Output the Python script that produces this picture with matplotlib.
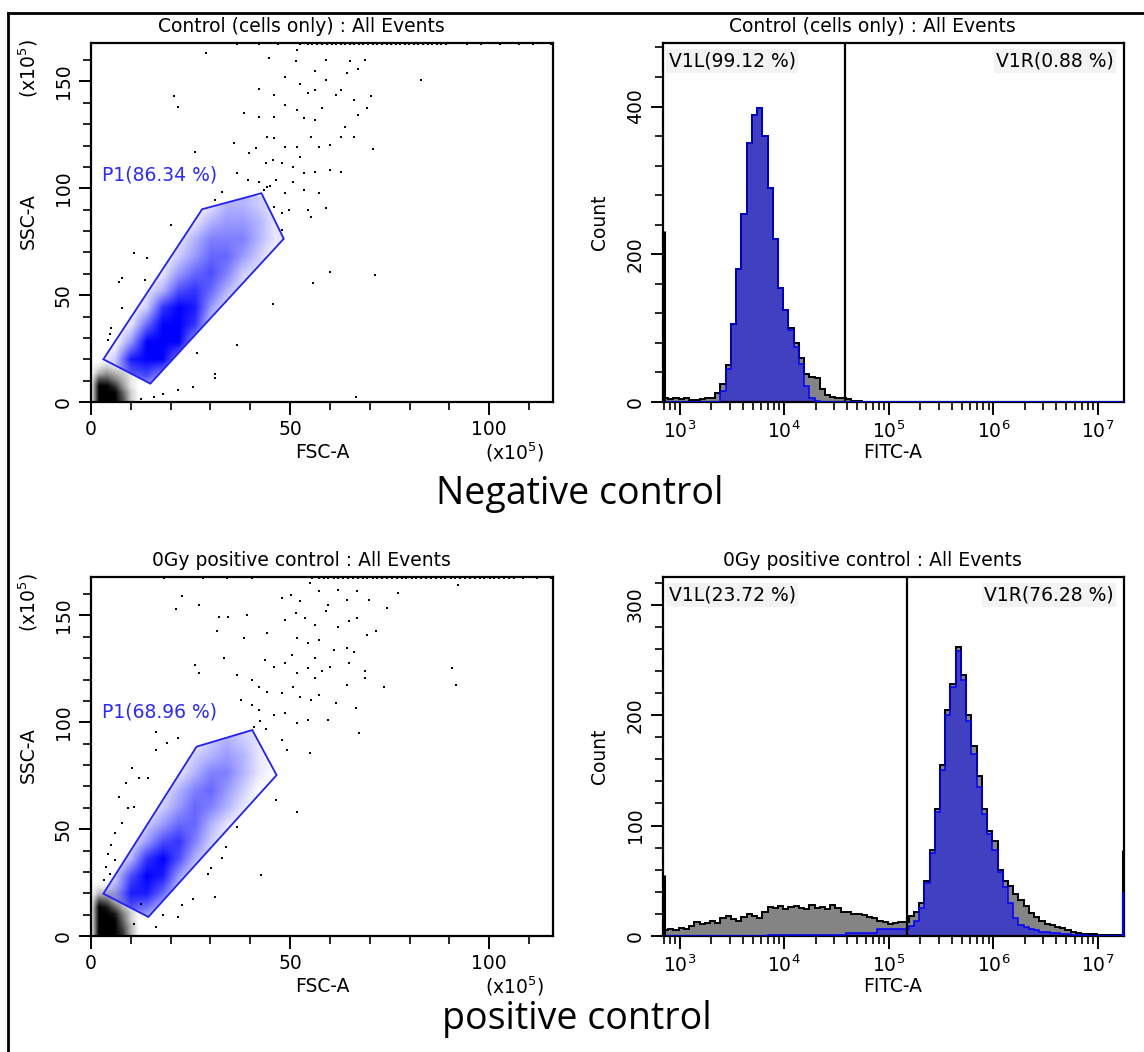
import numpy as np
import matplotlib
matplotlib.use("Agg")
import matplotlib.pyplot as plt
from matplotlib.colors import LinearSegmentedColormap
from matplotlib.patches import Polygon
from matplotlib.lines import Line2D
from matplotlib.ticker import MultipleLocator, LogLocator, NullFormatter

plt.rcParams['font.family'] = ['DejaVu Sans']
plt.rcParams['mathtext.fontset'] = 'dejavusans'

W, H = 1144, 1052

# ---------------- data: scatter panels (FSC-A / SSC-A, x10^5) ----------------
left_titles = ["Control (cells only) : All Events", "0Gy positive control : All Events"]
right_titles = left_titles
row_labels = ["Negative control", "positive control"]
p1_labels = ["P1(86.34 %)", "P1(68.96 %)"]
p1_pos = [(2.8, 106), (2.8, 104.7)]

gate_neg = [(3.1, 20.0), (27.9, 90.2), (42.8, 97.7), (48.4, 76.4), (14.9, 8.6)]
gate_pos = [(3.1, 19.8), (26.5, 88.6), (40.5, 96.4), (46.6, 75.3), (14.4, 8.9)]

# blue density inside gate P1 (relative 0-10), rows = ssc_nodes, cols = fsc_nodes
fsc_nodes = [2, 6, 10, 14, 18, 22, 26, 30, 34, 38, 42, 46]
ssc_nodes = [4, 12, 20, 28, 36, 44, 52, 60, 68, 76, 84, 92]
dens_neg = [
    [0, 0, 0, 0, 0, 0, 0, 0, 0, 0, 0, 0],
    [0, 1, 6, 7, 4, 1, 0, 0, 0, 0, 0, 0],
    [0, 2, 9, 10, 10, 5, 1, 0, 0, 0, 0, 0],
    [0, 0, 4, 10, 10, 10, 4, 1, 0, 0, 0, 0],
    [0, 0, 1, 6, 10, 10, 8, 2, 1, 0, 0, 0],
    [0, 0, 0, 2, 8, 10, 9, 4, 1, 0, 0, 0],
    [0, 0, 0, 1, 3, 7, 8, 6, 3, 1, 0, 0],
    [0, 0, 0, 0, 1, 4, 6, 7, 5, 2, 1, 0],
    [0, 0, 0, 0, 0, 2, 4, 6, 6, 4, 2, 0],
    [0, 0, 0, 0, 0, 1, 3, 5, 5, 5, 3, 1],
    [0, 0, 0, 0, 0, 0, 1, 3, 4, 4, 3, 1],
    [0, 0, 0, 0, 0, 0, 0, 1, 3, 3, 2, 1],
]
dens_pos = [
    [0, 0, 0, 0, 0, 0, 0, 0, 0, 0, 0, 0],
    [0, 2, 6, 5, 2, 0, 0, 0, 0, 0, 0, 0],
    [0, 3, 9, 9, 6, 2, 0, 0, 0, 0, 0, 0],
    [0, 2, 7, 10, 9, 4, 1, 0, 0, 0, 0, 0],
    [0, 0, 3, 8, 10, 7, 3, 1, 0, 0, 0, 0],
    [0, 0, 1, 4, 7, 8, 5, 2, 0, 0, 0, 0],
    [0, 0, 0, 2, 4, 6, 6, 3, 1, 0, 0, 0],
    [0, 0, 0, 0, 2, 4, 6, 5, 3, 1, 0, 0],
    [0, 0, 0, 0, 1, 3, 5, 6, 4, 2, 0, 0],
    [0, 0, 0, 0, 0, 1, 3, 5, 5, 3, 1, 0],
    [0, 0, 0, 0, 0, 0, 2, 3, 4, 3, 1, 0],
    [0, 0, 0, 0, 0, 0, 0, 2, 3, 2, 1, 0],
]

# black debris cluster near origin (relative 0-10), rows every 3 SSC units from 1.5
deb_fsc = [0, 2, 4, 6, 8, 10, 12]
deb_ssc_neg = [1.5, 4.5, 7.5, 10.5, 13.5, 16.5, 19.5]
deb_neg = [
    [0, 10, 10, 10, 7, 2, 0],
    [0, 10, 10, 10, 6, 2, 0],
    [0, 10, 10, 8, 4, 1, 0],
    [0, 7, 7, 5, 3, 1, 0],
    [0, 3, 4, 3, 2, 1, 0],
    [0, 1, 2, 1, 1, 0, 0],
    [0, 0, 0, 0, 0, 0, 0],
]
deb_ssc_pos = [1.5, 4.5, 7.5, 10.5, 13.5, 16.5, 19.5, 22.5, 25.5]
deb_pos = [
    [0, 10, 10, 10, 8, 3, 0],
    [0, 10, 10, 10, 7, 3, 0],
    [0, 10, 10, 10, 6, 2, 0],
    [0, 10, 10, 9, 5, 2, 0],
    [0, 10, 9, 6, 3, 1, 0],
    [0, 7, 6, 3, 2, 1, 0],
    [0, 3, 3, 2, 1, 0, 0],
    [0, 1, 1, 1, 0, 0, 0],
    [0, 0, 0, 0, 0, 0, 0],
]

# single events outside the gate (FSC, SSC)
neg_fsc = [28.8, 44.8, 51.6, 51.4, 59.1, 65.1, 67.0, 68.8, 64.2, 56.3, 48.8, 42.3, 46.0, 52.4, 54.4,
           56.3, 59.1, 61.4, 62.8, 66.0, 70.2, 69.3, 20.9, 21.9, 82.8, 38.4, 42.3, 46.0, 48.8, 51.6,
           53.5, 56.3, 58.1, 63.7, 67.0, 44.2, 46.0, 48.8, 51.6, 52.6, 55.3, 57.2, 60.0, 62.8, 66.0,
           70.7, 35.8, 39.6, 41.4, 45.6, 47.9, 50.7, 53.5, 56.3, 60.0, 62.8, 26.0, 36.7, 39.5, 42.3,
           44.2, 46.5, 48.8, 50.7, 53.5, 57.2, 33.0, 31.2, 46.0, 47.9, 49.8, 54.4, 59.1, 55.3, 47.9,
           20.0, 10.7, 14.0, 7.9, 7.0, 13.5, 7.9, 5.1, 4.7, 4.2, 45.6, 60.0, 71.3, 55.8, 36.7,
           26.5, 31.2, 31.2, 25.6, 66.5, 21.9, 18.1, 12.6, 15.8, 116.0, 116.0, 43.5, 45.0, 44.0]
neg_ssc = [163.3, 160.9, 164.5, 159.7, 160.2, 159.7, 156.0, 160.0, 154.0, 154.7, 152.3, 146.4, 143.8, 149.0, 144.5,
           146.0, 150.8, 143.8, 146.0, 141.4, 143.0, 137.5, 143.0, 138.0, 150.8, 135.2, 133.6, 133.3, 139.0, 136.7,
           132.8, 132.0, 137.5, 128.9, 134.4, 124.2, 123.4, 119.5, 119.5, 114.8, 124.2, 119.5, 120.3, 124.2, 124.2,
           118.4, 121.0, 116.4, 118.8, 113.3, 111.7, 110.2, 107.0, 107.8, 108.6, 107.8, 117.2, 107.0, 104.0, 103.0,
           100.8, 104.0, 97.7, 103.0, 99.2, 97.7, 98.4, 94.5, 91.4, 88.3, 89.8, 89.8, 90.6, 86.7, 80.5,
           82.8, 69.5, 67.2, 57.8, 56.3, 57.0, 43.8, 34.4, 32.0, 28.9, 45.8, 60.9, 59.4, 55.5, 26.6,
           22.7, 13.3, 11.0, 7.0, 2.3, 5.5, 3.9, 1.6, 2.3, 152.0, 70.0, 99.0, 101.0, 112.0]
pos_fsc = [22.8, 21.4, 27.0, 32.1, 34.4, 39.1, 31.6, 38.3, 44.2, 47.9, 50.2, 52.6, 54.9, 57.2, 59.5,
           61.9, 64.2, 66.9, 69.8, 74.4, 77.2, 92.1, 48.8, 51.4, 53.7, 56.3, 59.1, 61.9, 64.7, 66.9,
           71.6, 69.3, 51.6, 54.4, 57.2, 60.9, 64.2, 66.0, 50.5, 56.3, 64.7, 33.5, 26.0, 27.0, 43.7,
           46.0, 48.8, 51.6, 54.4, 56.3, 58.1, 60.0, 90.7, 91.6, 68.8, 68.8, 73.5, 64.2, 36.7, 40.5,
           42.3, 44.2, 47.9, 50.7, 52.6, 55.3, 57.2, 61.4, 59.5, 66.5, 67.4, 37.7, 40.5, 42.3, 46.0,
           48.8, 51.6, 54.4, 47.9, 49.3, 54.9, 46.5, 51.6, 36.7, 34.0, 33.0, 30.2, 29.3, 42.8, 31.2,
           25.6, 22.8, 21.9, 18.1, 16.3, 21.9, 19.1, 16.3, 12.1, 14.4, 8.8, 10.2, 10.7, 9.3, 7.0,
           7.9, 6.0, 5.1, 4.2, 3.7, 3.3, 4.7, 6.0, 12.6, 16.3, 10.7, 116.0, 41.0, 42.5, 44.0]
pos_ssc = [158.9, 153.1, 154.7, 149.5, 149.5, 150.0, 142.5, 139.4, 141.7, 158.1, 159.7, 156.6, 165.2, 161.3, 155.0,
           162.0, 157.3, 161.3, 157.3, 153.4, 160.5, 164.4, 148.0, 151.1, 148.8, 145.6, 151.9, 144.8, 147.2, 148.8,
           142.5, 140.9, 139.4, 137.0, 138.6, 133.9, 134.7, 133.1, 131.6, 130.0, 127.7, 130.0, 126.9, 123.3, 129.2,
           126.1, 127.7, 123.0, 125.3, 120.6, 123.8, 126.1, 125.3, 117.5, 123.8, 120.6, 116.7, 117.5, 122.2, 119.8,
           116.7, 114.4, 113.6, 116.7, 112.0, 110.5, 112.8, 108.9, 101.1, 106.6, 94.8, 110.5, 108.1, 105.8, 103.4,
           104.2, 99.5, 101.1, 91.7, 87.0, 85.5, 63.6, 58.1, 51.1, 41.7, 36.3, 31.6, 29.2, 28.4, 18.3,
           17.5, 14.4, 8.9, 9.7, 95.6, 92.5, 90.2, 87.0, 73.8, 73.8, 71.4, 78.4, 60.5, 59.7, 65.2,
           52.7, 48.0, 42.5, 38.6, 32.3, 26.1, 29.2, 35.5, 15.2, 4.2, 5.8, 164.0, 98.0, 100.5, 97.0]

# events piled up at the SSC ceiling
neg_top = [36.7, 42.3, 47.0, 52.6, 54.4, 55.5, 56.8, 58.1, 59.3, 60.4, 61.5, 62.7, 63.8, 65.0, 66.1, 67.3,
           68.4, 69.6, 70.7, 71.9, 73.0, 74.2, 75.3, 76.5, 77.6, 78.8, 79.9, 81.1, 82.2, 83.4, 84.5,
           85.7, 86.8, 88.0, 89.2, 94.4, 98.0, 102.8, 107.4, 111.0, 115.4]
pos_top = [18.4, 28.1, 34.2, 40.3, 55.6, 57.2, 58.4, 59.6, 60.9, 62.1, 63.3, 64.5, 65.8, 67.0, 68.2,
           69.4, 70.7, 71.9, 73.1, 74.3, 75.6, 76.8, 78.0, 79.2, 80.5, 81.7, 82.9, 84.1, 85.4, 86.6,
           87.8, 89.0, 90.3, 91.5, 92.7, 93.9, 95.2, 96.4, 97.6, 98.8, 100.1, 101.3, 102.5, 103.7,
           104.9, 106.2, 108.5, 112.0, 115.5]

# ---------------- data: FITC-A histograms ----------------
hist_log_start = 2.84   # first channel, log10(FITC-A)
hist_log_step = 0.05
neg_all = [5, 4, 6, 4, 5, 3, 3, 4, 6, 5, 12, 25, 50, 105, 180, 255, 350, 388, 398, 360,
           290, 220, 155, 125, 100, 80, 60, 38, 34, 32, 18, 9, 7, 6, 5, 4, 2, 1] + [0] * 50
neg_gate = [0] * 11 + [15, 45, 105, 180, 255, 350, 388, 398, 360, 290, 220, 155, 125, 98, 74,
                       52, 22, 5, 2] + [0] * 58
pos_all = [5, 6, 5, 7, 6, 9, 13, 11, 12, 14, 12, 16, 18, 15, 14, 17, 20, 18, 16, 22,
           26, 25, 27, 24, 26, 27, 25, 24, 28, 25, 26, 24, 28, 25, 22, 22, 20, 20, 19, 17,
           16, 14, 13, 11, 12, 13, 13, 18, 22, 30, 50, 78, 115, 155, 205, 228, 262, 236, 200, 172,
           145, 115, 95, 86, 60, 50, 45, 38, 33, 27, 21, 17, 14, 11, 10, 8, 7, 5, 4, 3,
           2, 2, 2, 1, 1, 1, 1, 1]
pos_gate = [0] * 20 + [1] * 15 + [3] * 6 + [6] * 6 + [
    9, 14, 25, 48, 75, 112, 150, 200, 225, 258, 232, 195, 165, 135, 110, 92, 78, 58, 44, 30,
    16, 10, 8, 6, 5, 4, 4, 3, 3, 2, 2, 1, 1, 1] + [0] * 7
neg_edge = (232, 0, 0, 0)     # first-channel all, first gated, last all, last gated
pos_edge = (55, 0, 78, 40)
v1_gate = [10 ** 4.58, 10 ** 5.17]
v1l_labels = ["V1L(99.12 %)", "V1L(23.72 %)"]
v1r_labels = ["V1R(0.88 %)", "V1R(76.28 %)"]
hist_ylim = [486, 325]
hist_major = [[0, 200, 400], [0, 100, 200, 300]]
hist_minor = [40, 20]

# ---------------- layout (pixel boxes) ----------------
def box(x0, y0, x1, y1):
    return [x0 / W, 1 - y1 / H, (x1 - x0) / W, (y1 - y0) / H]

def ftxt(x, y, s, **kw):
    fig.text(x / W, 1 - y / H, s, **kw)

fig = plt.figure(figsize=(W / 100, H / 100), dpi=100)

blue_cmap = LinearSegmentedColormap.from_list("bl", [(0, 0, 1, 0), (0, 0, 1, 1)])
black_cmap = LinearSegmentedColormap.from_list("bk", [(0, 0, 0, 0), (0, 0, 0, 1)])

fs = 13.5
scatter_boxes = [box(91, 43, 553, 402), box(91, 577, 553, 936)]
hist_boxes = [box(663, 43, 1124, 402), box(663, 577, 1124, 936)]
row_y = [0, 534]

scatter_sets = [
    (gate_neg, dens_neg, deb_ssc_neg, deb_neg, neg_fsc, neg_ssc, neg_top),
    (gate_pos, dens_pos, deb_ssc_pos, deb_pos, pos_fsc, pos_ssc, pos_top),
]

for i in range(2):
    gate, dens, deb_ssc, deb, sx, sy, top = scatter_sets[i]
    ax = fig.add_axes(scatter_boxes[i])

    ax.imshow(np.array(deb) / 10, cmap=black_cmap, vmin=0, vmax=1, origin='lower',
              extent=(deb_fsc[0] - 1, deb_fsc[-1] + 1, deb_ssc[0] - 1.5, deb_ssc[-1] + 1.5),
              interpolation='bilinear', aspect='auto', zorder=1)
    poly = Polygon(gate, closed=True, fill=False, ec='#1f1fff', lw=1.3, zorder=4)
    ax.add_patch(poly)
    im = ax.imshow(np.array(dens) / 10, cmap=blue_cmap, vmin=0, vmax=1, origin='lower',
                   extent=(fsc_nodes[0] - 2, fsc_nodes[-1] + 2, ssc_nodes[0] - 4, ssc_nodes[-1] + 4),
                   interpolation='bilinear', aspect='auto', zorder=2)
    im.set_clip_path(poly)
    ax.scatter(sx, sy, s=3.5, c='k', marker='s', lw=0, zorder=3)
    ax.scatter(top, [167.3] * len(top), s=4, c='k', marker='s', lw=0, zorder=3, clip_on=False)
    ax.set_xlim(0, 116)
    ax.set_ylim(0, 168)

    ax.text(p1_pos[i][0], p1_pos[i][1], p1_labels[i], color='#2a2aff', fontsize=fs,
            va='center', ha='left', zorder=5)

    ax.set_xticks([0, 50, 100])
    ax.set_yticks([0, 50, 100, 150])
    ax.xaxis.set_minor_locator(MultipleLocator(10))
    ax.yaxis.set_minor_locator(MultipleLocator(10))
    ax.set_yticklabels(['0', '50', '100', '150'], rotation=90, va='center')
    ax.tick_params(which='major', length=9, width=1.4, labelsize=fs, pad=4)
    ax.tick_params(which='minor', length=6, width=1.2)
    for sp in ax.spines.values():
        sp.set_linewidth(1.6)

    oy = row_y[i]
    ftxt(301, 27 + oy, left_titles[i], fontsize=fs, ha='center', va='center')
    ftxt(28, 221 + oy, "SSC-A", fontsize=fs, rotation=90, ha='center', va='center')
    ftxt(28, 68 + oy, r"(x10$^{5}$)", fontsize=fs, rotation=90, ha='center', va='center')
    ftxt(322, 452 + oy, "FSC-A", fontsize=fs, ha='center', va='center')
    ftxt(515, 452 + oy, r"(x10$^{5}$)", fontsize=fs, ha='center', va='center')

hist_sets = [(neg_all, neg_gate, neg_edge), (pos_all, pos_gate, pos_edge)]
edges = 10 ** (hist_log_start + hist_log_step * np.arange(len(neg_all) + 1))

for i in range(2):
    allv, gated, edge = hist_sets[i]
    ax = fig.add_axes(hist_boxes[i])
    ax.set_xscale('log')
    ax.set_xlim(10 ** 2.84, 10 ** 7.25)
    ax.set_ylim(0, hist_ylim[i])

    ax.stairs(allv, edges, fill=True, color='#848484', zorder=1)
    ax.stairs(gated, edges, fill=True, color='#4040c0', zorder=2)
    ax.stairs(allv, edges, color='k', lw=1.4, zorder=3)
    ax.stairs(gated, edges, color='#0000ff', lw=1.1, zorder=4)
    ax.vlines(10 ** 2.846, 0, edge[0], color='k', lw=2.2, zorder=5)
    ax.vlines(10 ** 7.243, 0, edge[2], color='k', lw=2.2, zorder=5)
    ax.vlines(10 ** 7.243, 0, edge[3], color='#0000ff', lw=1.5, zorder=6)

    ax.axvline(v1_gate[i], color='k', lw=1.6, zorder=6)
    ax.text(0.012, 0.95, v1l_labels[i], transform=ax.transAxes, fontsize=fs, ha='left', va='center',
            bbox=dict(fc='#f3f3f3', ec='none', pad=1.5), zorder=7)
    ax.text(0.978, 0.95, v1r_labels[i], transform=ax.transAxes, fontsize=fs, ha='right', va='center',
            bbox=dict(fc='#f3f3f3', ec='none', pad=1.5), zorder=7)

    ax.set_xticks([1e3, 1e4, 1e5, 1e6, 1e7])
    ax.set_xticklabels([r'10$^{%d}$' % k for k in range(3, 8)])
    ax.xaxis.set_minor_locator(LogLocator(base=10, subs=range(2, 10), numticks=20))
    ax.xaxis.set_minor_formatter(NullFormatter())
    ax.set_yticks(hist_major[i])
    ax.set_yticklabels([str(v) for v in hist_major[i]], rotation=90, va='center')
    ax.yaxis.set_minor_locator(MultipleLocator(hist_minor[i]))
    ax.tick_params(which='major', length=9, width=1.4, labelsize=fs, pad=4)
    ax.tick_params(which='minor', length=6, width=1.2)
    for sp in ax.spines.values():
        sp.set_linewidth(1.6)

    oy = row_y[i]
    ftxt(872, 27 + oy, right_titles[i], fontsize=fs, ha='center', va='center')
    ftxt(600, 222 + oy, "Count", fontsize=fs, rotation=90, ha='center', va='center')
    ftxt(893, 452 + oy, "FITC-A", fontsize=fs, ha='center', va='center')

ftxt(580, 494, row_labels[0], fontsize=27, family=['Open Sans', 'DejaVu Sans'], ha='center', va='center')
ftxt(577, 1019, row_labels[1], fontsize=27, family=['Open Sans', 'DejaVu Sans'], ha='center', va='center')

# outer frame (left and top edges visible in the crop)
fig.add_artist(Line2D([8 / W, 8 / W], [0, 1 - 13 / H], transform=fig.transFigure, color='k', lw=2))
fig.add_artist(Line2D([8 / W, 1], [1 - 13 / H, 1 - 13 / H], transform=fig.transFigure, color='k', lw=2))

fig.savefig("out.png", dpi=100)
